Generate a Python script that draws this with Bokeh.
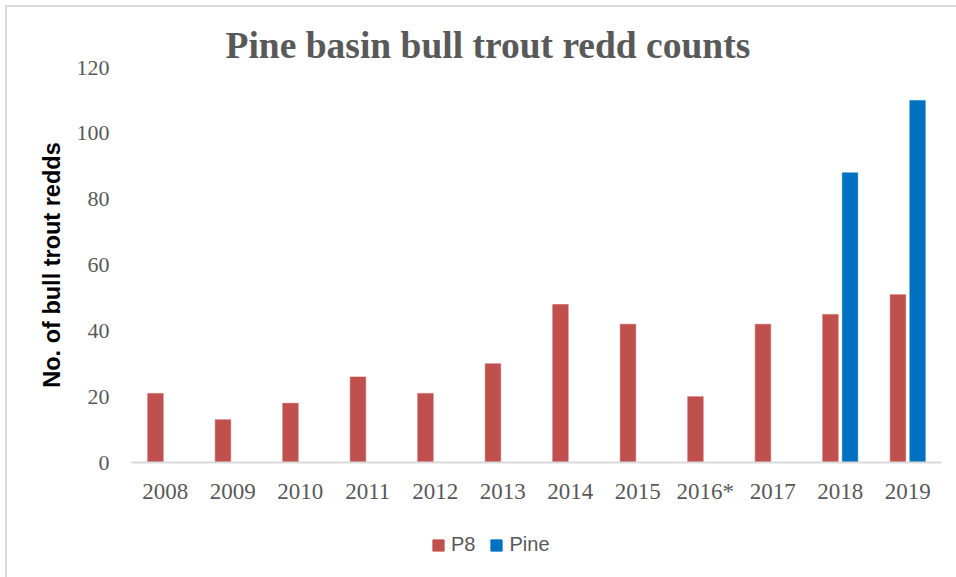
from bokeh.plotting import figure
from bokeh.models import (ColumnDataSource, FactorRange, Range1d, FixedTicker,
                          Legend, LegendItem)
from bokeh.layouts import column
from bokeh.transform import dodge
from bokeh.embed import file_html
from bokeh.resources import INLINE

# Redd counts per survey year
years = ["2008", "2009", "2010", "2011", "2012", "2013", "2014",
         "2015", "2016*", "2017", "2018", "2019"]
p8 = [21, 13, 18, 26, 21, 30, 48, 42, 20, 42, 45, 51]
pine = [None, None, None, None, None, None, None, None, None, None, 88, 110]

y_ticks = [0, 20, 40, 60, 80, 100, 120]
series_names = ["P8", "Pine"]

RED = "#C0504D"
BLUE = "#0070C0"
GREY_TEXT = "#595959"

p8_src = ColumnDataSource(dict(year=years, count=p8))
pine_years = [y for y, v in zip(years, pine) if v is not None]
pine_vals = [v for v in pine if v is not None]
pine_src = ColumnDataSource(dict(year=pine_years, count=pine_vals))

OX, OY = 7, 7          # page offset of the content (margin + border)
W = 956 - OX
MAIN_H = 520 - OY
LEG_H = 577 - 520

p = figure(
    x_range=FactorRange(*years, range_padding=0),
    y_range=Range1d(0, 120),
    width=W, height=MAIN_H,
    output_backend="svg", toolbar_location=None,
    min_border_left=131 - OX, min_border_right=15,
    min_border_top=67 - OY, min_border_bottom=520 - 462,
)
p.background_fill_color = "white"
p.border_fill_color = "white"
p.outline_line_color = None
p.xgrid.grid_line_color = None
p.ygrid.grid_line_color = None

bw = 0.23
off = 0.145
p.vbar(x=dodge("year", -off, range=p.x_range), top="count", width=bw,
       source=p8_src, fill_color=RED, line_color=RED, line_width=0.5)
p.vbar(x=dodge("year", off, range=p.x_range), top="count", width=bw,
       source=pine_src, fill_color=BLUE, line_color=BLUE, line_width=0.5)

# Title
p.title.text = "Pine basin bull trout redd counts"
p.title.text_font = "Liberation Serif"
p.title.text_font_size = "37.5px"
p.title.text_font_style = "bold"
p.title.text_color = GREY_TEXT
p.title.align = "left"
p.title.offset = 94
p.title.standoff = 4

# X axis
xa = p.xaxis[0]
xa.axis_line_color = "#d9d9d9"
xa.axis_line_width = 2
xa.major_tick_line_color = None
xa.minor_tick_line_color = None
xa.major_label_text_font = "Liberation Serif"
xa.major_label_text_font_size = "23px"
xa.major_label_text_color = GREY_TEXT
xa.major_label_standoff = 10

# Y axis
ya = p.yaxis[0]
ya.ticker = FixedTicker(ticks=y_ticks)
ya.axis_line_color = None
ya.major_tick_line_color = None
ya.minor_tick_line_color = None
ya.major_label_text_font = "Liberation Serif"
ya.major_label_text_font_size = "22px"
ya.major_label_text_color = GREY_TEXT
ya.major_label_standoff = 16
ya.axis_label = "No. of bull trout redds"
ya.axis_label_text_font = "Liberation Sans"
ya.axis_label_text_font_size = "23.5px"
ya.axis_label_text_font_style = "bold"
ya.axis_label_text_color = "black"
ya.axis_label_standoff = 9

# Legend strip below the chart (its frame lines up with the chart frame)
leg = figure(
    x_range=Range1d(0, W), y_range=Range1d(0, LEG_H),
    width=W, height=LEG_H,
    output_backend="svg", toolbar_location=None,
    x_axis_location=None, y_axis_location=None,
    min_border=0,
)
leg.outline_line_color = None
leg.xgrid.grid_line_color = None
leg.ygrid.grid_line_color = None
# zero-height key glyphs parked left of the strip's visible range
key = dict(x=[-10], top=[0])
k_p8 = leg.vbar(x="x", top="top", width=1, source=ColumnDataSource(key),
                fill_color=RED, line_color=RED)
k_pine = leg.vbar(x="x", top="top", width=1, source=ColumnDataSource(key),
                  fill_color=BLUE, line_color=BLUE)
legend = Legend(
    items=[LegendItem(label=series_names[0], renderers=[k_p8]),
           LegendItem(label=series_names[1], renderers=[k_pine])],
    orientation="horizontal",
    location=(300, 21),
    padding=0, margin=0, spacing=14,
    glyph_width=14, glyph_height=14, label_standoff=6,
    label_text_font="Liberation Sans", label_text_font_size="20px",
    label_text_color=GREY_TEXT,
    border_line_color=None, background_fill_alpha=0,
)
leg.add_layout(legend, "center")

page = column(p, leg, spacing=0, margin=(5, 0, 0, 5),
              styles={"border-top": "2px solid #d9d9d9",
                      "border-left": "2px solid #d9d9d9"})

open("out.html", "w").write(file_html(page, INLINE))
